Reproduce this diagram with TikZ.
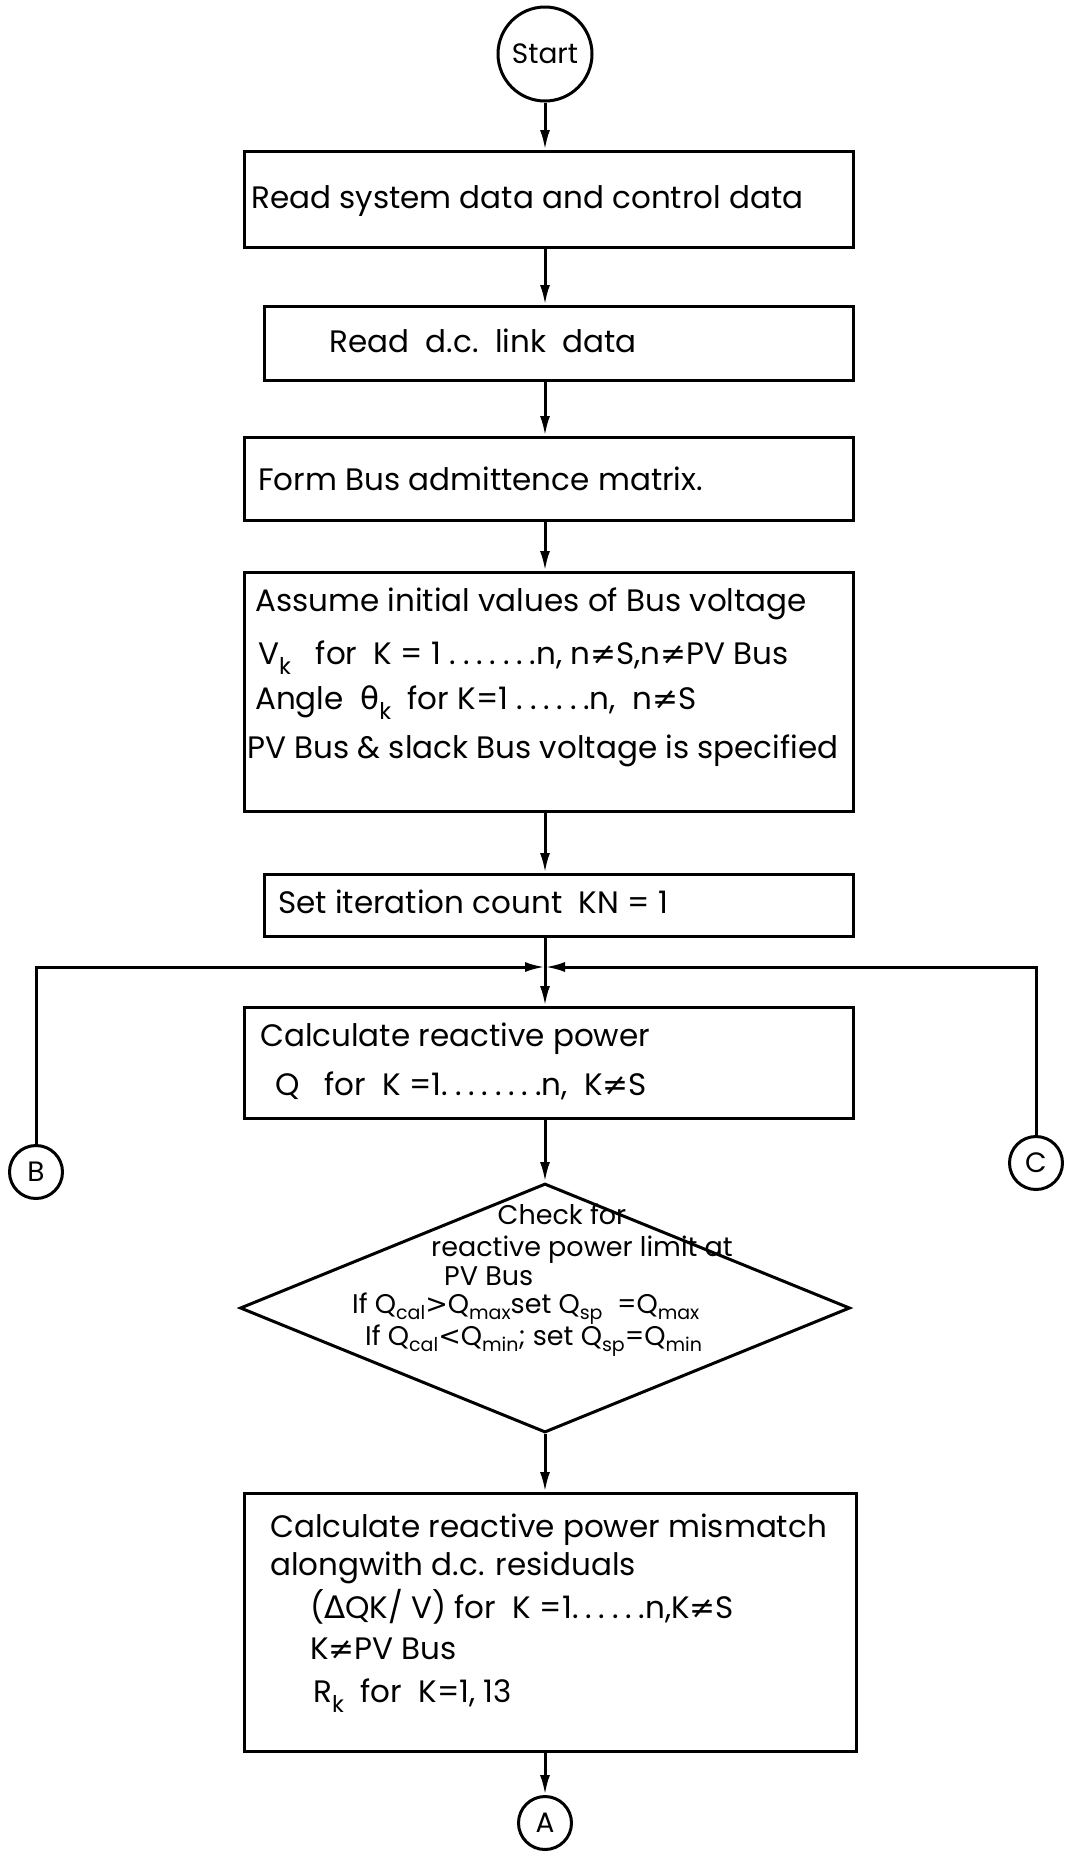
\documentclass[tikz,border=0pt]{standalone}
\usepackage{fontspec}
\setmainfont{Poppins}
\newfontfamily\symf{DejaVu Sans}
\usetikzlibrary{shapes.geometric,arrows.meta}
\newcommand{\lowr}[1]{\raisebox{-0.3em}{\fontsize{23}{23}\selectfont #1}}
\newcommand{\lowd}[1]{\raisebox{-0.2em}{\fontsize{19}{19}\selectfont #1}}
\newcommand{\nq}{{\symf ≠}}
\newcommand{\dd}{.\hspace{0.22em}}
\begin{document}
\begin{tikzpicture}[x=1pt,y=-1pt,
  box/.style={draw, line width=3pt, inner sep=0pt, anchor=north west},
  txt/.style={anchor=mid west, inner sep=0pt, font=\fontsize{31}{36}\selectfont},
  dtxt/.style={anchor=mid west, inner sep=0pt, font=\fontsize{27}{30}\selectfont},
  dctxt/.style={anchor=mid, inner sep=0pt, font=\fontsize{27}{30}\selectfont},
  conn/.style={draw, line width=3pt, circle, inner sep=0pt, font=\fontsize{28}{34}\selectfont},
  arr/.style={-{Latex[length=20pt,width=10pt]}, line width=3pt}]
\fill[white] (0,0) rectangle (1068,1856);
\useasboundingbox (0,0) rectangle (1068,1856);
% nodes
\node[conn, minimum size=94pt] (start) at (545,54) {Start};
\node[box, minimum width=609pt, minimum height=96pt] (b1) at (243,150) {};
\node[box, minimum width=589pt, minimum height=74pt] (b2) at (263,305) {};
\node[box, minimum width=609pt, minimum height=83pt] (b3) at (243,436) {};
\node[box, minimum width=609pt, minimum height=239pt] (b4) at (243,571) {};
\node[box, minimum width=589pt, minimum height=62pt] (b5) at (263,873) {};
\node[box, minimum width=609pt, minimum height=111pt] (b6) at (243,1006) {};
\node[draw, line width=3pt, diamond, inner sep=0pt, minimum width=610pt, minimum height=249pt] (d) at (545,1308) {};
\node[box, minimum width=612pt, minimum height=258pt] (b7) at (243,1492) {};
\node[conn, minimum size=53pt] (B) at (36,1172) {B};
\node[conn, minimum size=53pt] (C) at (1036,1163) {C};
\node[conn, minimum size=53pt] (A) at (545,1823) {A};
\coordinate (j) at (545,967);
% texts
\node[txt] (t1) at (251,206) {Read system data and control data};
\node[txt] (t2) at (329,350) {Read\ \ d.c.\ \ link\ \ data};
\node[txt] (t3) at (258,488) {Form Bus admittence matrix.};
\node[txt] (t4a) at (255,609) {Assume initial values of Bus voltage};
\node[txt] (t4b) at (258,662) {V\lowr{k}\ \ \ for\ \ K = 1 \dd\dd\dd\dd\dd\dd.n, n\nq S,n\nq PV Bus};
\node[txt] (t4c) at (255,707) {Angle\ \ {\symf θ}\lowr{k}\ \ for K=1 \dd\dd\dd\dd\dd.n,\ \ n\nq S};
\node[txt] (t4d) at (247,756) {PV Bus \& slack Bus voltage is specified};
\node[txt] (t5) at (278,911) {Set iteration count\ \ KN = 1};
\node[txt] (t6a) at (260,1044) {Calculate reactive power};
\node[txt] (t6b) at (275,1093) {Q\ \ \ for\ \ K =1\dd\dd\dd\dd\dd\dd\dd.n,\ \ K\nq S};
\node[dctxt] (td1) at (562,1222) {Check for};
\node[dctxt] (td2) at (582,1254) {reactive power limit at};
\node[dtxt] (td3) at (444,1283) {PV Bus};
\node[dtxt] (td4) at (352,1311) {If Q\lowd{cal}{\symf >}Q\lowd{max}set Q\lowd{sp}\ \ =Q\lowd{max}};
\node[dtxt] (td5) at (365,1343) {If Q\lowd{cal}{\symf <}Q\lowd{min}; set Q\lowd{sp}=Q\lowd{min}};
\node[txt] (t7a) at (270,1535) {Calculate reactive power mismatch};
\node[txt] (t7b) at (270,1573) {alongwith d.c. residuals};
\node[txt] (t7c) at (310,1616) {({\symf Δ}QK/ V) for\ \ K =1\dd\dd\dd\dd\dd.n,K\nq S};
\node[txt] (t7d) at (310,1657) {K\nq PV Bus};
\node[txt] (t7e) at (313,1700) {R\lowr{k}\ \ for\ \ K=1, 13};
% connectors
\draw[arr] (start) -- (start |- b1.north);
\draw[arr] (start |- b1.south) -- (start |- b2.north);
\draw[arr] (start |- b2.south) -- (start |- b3.north);
\draw[arr] (start |- b3.south) -- (start |- b4.north);
\draw[arr] (start |- b4.south) -- (start |- b5.north);
\draw[arr] (start |- b5.south) -- (start |- b6.north);
\draw[arr] (B.north) |- (j);
\draw[arr] (C.north) |- (j);
\draw[arr] (start |- b6.south) -- (d.north);
\draw[arr] (d.south) -- (start |- b7.north);
\draw[arr] (start |- b7.south) -- (A.north);
\end{tikzpicture}
\end{document}
